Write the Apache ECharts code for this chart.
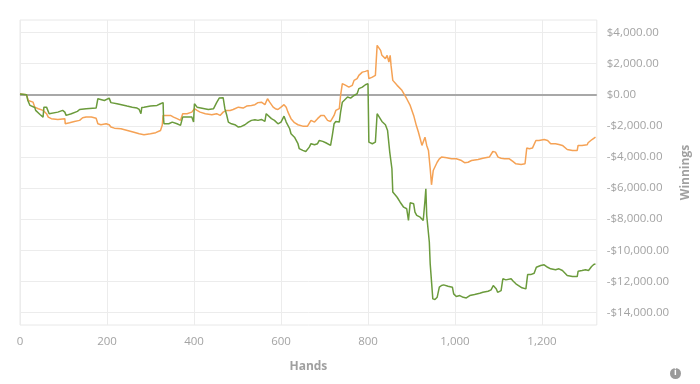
<!DOCTYPE html>
<html>
<head>
<meta charset="utf-8">
<script src="https://cdn.jsdelivr.net/npm/echarts@6/dist/echarts.min.js"></script>
<style>html,body{margin:0;padding:0;background:#fff}#c{width:700px;height:384px}</style>
</head>
<body>
<div id="c"></div>
<script>
const xLabels = [0, 200, 400, 600, 800, 1000, 1200];
const yLabels = [-14000, -12000, -10000, -8000, -6000, -4000, -2000, 0, 2000, 4000];
const xMin = 0, xMax = 1326;
const yMin = -14800, yMax = 4800;

const greenHands = [0,15,18,23,34,36,46,53,55,61,65,67,87,98,103,106,118,132,137,152,175,179,194,205,209,223,246,258,269,274,278,280,285,300,315,323,329,330,331,335,342,350,361,369,372,374,395,399,401,407,410,433,445,452,458,467,471,475,479,486,494,502,509,517,525,532,540,547,555,563,566,570,578,585,593,600,607,612,620,623,631,639,642,650,657,665,669,677,684,688,696,703,707,714,718,722,726,734,737,741,745,753,760,768,775,779,787,794,800,802,810,817,821,825,832,840,845,850,853,855,857,859,867,874,882,889,893,897,905,908,912,920,927,931,933,935,939,941,943,946,949,954,959,964,969,974,984,994,997,1003,1011,1019,1026,1034,1045,1057,1064,1076,1083,1088,1095,1098,1106,1110,1117,1129,1134,1140,1154,1163,1167,1174,1182,1187,1197,1205,1213,1220,1231,1239,1247,1258,1270,1281,1283,1292,1300,1304,1307,1314,1319,1323];
const greenValues = [50,0,-370,-690,-820,-1010,-1270,-1440,-800,-800,-850,-1220,-1120,-1010,-1120,-1330,-1220,-1070,-950,-900,-860,-260,-370,-220,-510,-580,-730,-800,-860,-950,-1220,-820,-800,-730,-690,-580,-510,-1540,-1870,-1760,-1870,-1760,-1870,-1970,-1970,-1440,-1440,-1760,-580,-800,-900,-950,-900,-510,-220,-190,-900,-1290,-1760,-1870,-1930,-2080,-2040,-1930,-1760,-1650,-1610,-1650,-1590,-1720,-1220,-1120,-1540,-1650,-1870,-1760,-1380,-1760,-2190,-2510,-2730,-3150,-3470,-3580,-3650,-3370,-3150,-3220,-3150,-2940,-3000,-3090,-3150,-3260,-2620,-1870,-1720,-1760,-1120,-480,-370,-150,-220,-50,60,390,490,640,710,-3050,-3150,-3050,-1220,-1330,-1720,-1930,-2300,-3690,-3790,-4760,-6260,-6370,-6590,-6910,-7230,-7330,-8080,-6950,-7010,-7550,-7760,-7870,-8080,-6800,-6050,-7760,-7870,-9480,-10870,-10980,-13120,-13160,-13020,-12370,-12260,-12220,-12310,-12370,-12800,-12970,-12910,-13020,-13060,-12910,-12840,-12760,-12700,-12630,-12540,-12260,-12480,-12700,-12590,-11830,-11900,-11830,-11990,-12150,-12410,-12480,-11560,-11560,-11470,-11090,-10980,-10930,-11090,-11190,-11250,-11190,-11300,-11620,-11690,-11690,-11350,-11300,-11250,-11190,-11300,-11040,-10910,-10870];

const orangeHands = [0,15,19,30,34,42,53,61,65,72,87,103,104,114,125,137,144,152,164,175,179,186,198,205,209,217,232,247,262,274,285,300,312,323,327,329,331,338,346,353,361,369,374,384,395,401,407,414,426,441,452,460,467,475,483,490,502,513,521,532,540,547,555,563,569,574,582,587,593,600,607,612,616,623,631,639,650,661,669,677,684,692,699,707,714,722,726,734,737,741,749,756,764,768,775,779,787,794,800,802,810,817,821,825,829,832,840,844,848,851,853,857,867,878,889,897,905,911,916,920,924,931,935,939,943,946,950,954,959,964,969,981,992,1003,1015,1022,1030,1038,1053,1064,1079,1087,1093,1099,1106,1114,1125,1133,1140,1152,1161,1165,1171,1178,1186,1193,1205,1213,1220,1231,1239,1247,1258,1270,1281,1283,1292,1304,1306,1309,1315,1323];
const orangeValues = [50,0,-370,-480,-800,-900,-1010,-1220,-1440,-1540,-1590,-1540,-1870,-1800,-1720,-1650,-1480,-1440,-1440,-1510,-1870,-1930,-1870,-1930,-2080,-2150,-2190,-2300,-2410,-2510,-2570,-2510,-2440,-2300,-1970,-1330,-1220,-1330,-1330,-1440,-1540,-1650,-1220,-1220,-1120,-900,-1010,-1120,-1220,-1290,-1220,-1330,-1120,-1010,-1010,-950,-800,-860,-730,-690,-640,-510,-480,-640,-260,-480,-800,-900,-950,-800,-640,-800,-1120,-1540,-1800,-1930,-2020,-2020,-1650,-1760,-1540,-1330,-1330,-1650,-1720,-1330,-1010,-900,-50,710,600,490,600,920,1030,1240,1450,1500,1560,1030,1130,1240,3170,3060,2850,2530,2320,2530,2100,2530,1880,920,600,280,-260,-690,-1330,-1970,-2410,-2830,-3260,-2730,-3260,-3580,-4760,-5790,-4870,-4760,-4340,-4120,-4010,-4050,-4120,-4120,-4230,-4370,-4340,-4230,-4160,-4080,-4010,-3650,-3690,-4010,-4080,-4120,-4120,-4290,-4440,-4480,-4440,-3430,-3470,-3430,-2940,-2940,-2880,-2940,-3150,-3150,-3200,-3260,-3520,-3580,-3580,-3260,-3260,-3220,-3090,-3200,-2880,-2730];

function zip(xs, ys) { return xs.map((x, i) => [x, ys[i]]); }
function money(v) {
  const s = Math.abs(v).toLocaleString('en-US', {minimumFractionDigits: 2, maximumFractionDigits: 2});
  return (v < 0 ? '-$' : '$') + s;
}

const chart = echarts.init(document.getElementById('c'), null, {renderer: 'canvas'});
const labelFont = {color: '#a3a3a3', fontFamily: 'Open Sans', fontSize: 11.5};
chart.setOption({
  animation: false,
  backgroundColor: '#fff',
  grid: {left: 20, right: 98, top: 20, bottom: 59, show: true, borderColor: '#e8e8e8', borderWidth: 1, backgroundColor: 'transparent'},
  xAxis: {
    type: 'value', min: xMin, max: xMax,
    name: 'Hands', nameLocation: 'middle', nameGap: 36,
    nameTextStyle: {color: '#a0a0a0', fontFamily: 'Open Sans', fontSize: 12, fontWeight: 'bold'},
    axisLine: {show: false}, axisTick: {show: false, customValues: xLabels},
    axisLabel: Object.assign({customValues: xLabels, margin: 11, formatter: v => v.toLocaleString('en-US')}, labelFont),
    splitLine: {show: true, lineStyle: {color: '#ececec', width: 1}}
  },
  yAxis: {
    type: 'value', position: 'right', min: yMin, max: yMax,
    name: 'Winnings', nameLocation: 'middle', nameGap: 82, nameRotate: 90,
    nameTextStyle: {color: '#a0a0a0', fontFamily: 'Open Sans', fontSize: 12, fontWeight: 'bold'},
    axisLine: {show: false}, axisTick: {show: false, customValues: yLabels},
    axisLabel: Object.assign({customValues: yLabels, margin: 10, formatter: money}, labelFont),
    splitLine: {show: true, lineStyle: {color: '#ececec', width: 1}}
  },
  series: [
    {
      name: 'Winnings (all-in EV)', type: 'line', data: zip(orangeHands, orangeValues),
      showSymbol: false, symbol: 'none', lineStyle: {color: '#f5a255', width: 1.5}, itemStyle: {color: '#f5a255'}, z: 3,
      markLine: {silent: true, symbol: 'none', label: {show: false}, lineStyle: {color: '#a8a8a8', width: 2, type: 'solid'}, data: [{yAxis: 0}], z: 2}
    },
    {
      name: 'Winnings', type: 'line', data: zip(greenHands, greenValues),
      showSymbol: false, symbol: 'none', lineStyle: {color: '#6b9b3c', width: 1.5}, itemStyle: {color: '#6b9b3c'}, z: 4
    }
  ],
  graphic: [
    {type: 'circle', left: 670, top: 368, shape: {r: 5.5}, style: {fill: '#9a9a9a'}},
    {type: 'text', left: 674, top: 368, style: {text: 'i', fill: '#fff', font: 'bold 9px "Open Sans"'}}
  ]
});
</script>
</body>
</html>
